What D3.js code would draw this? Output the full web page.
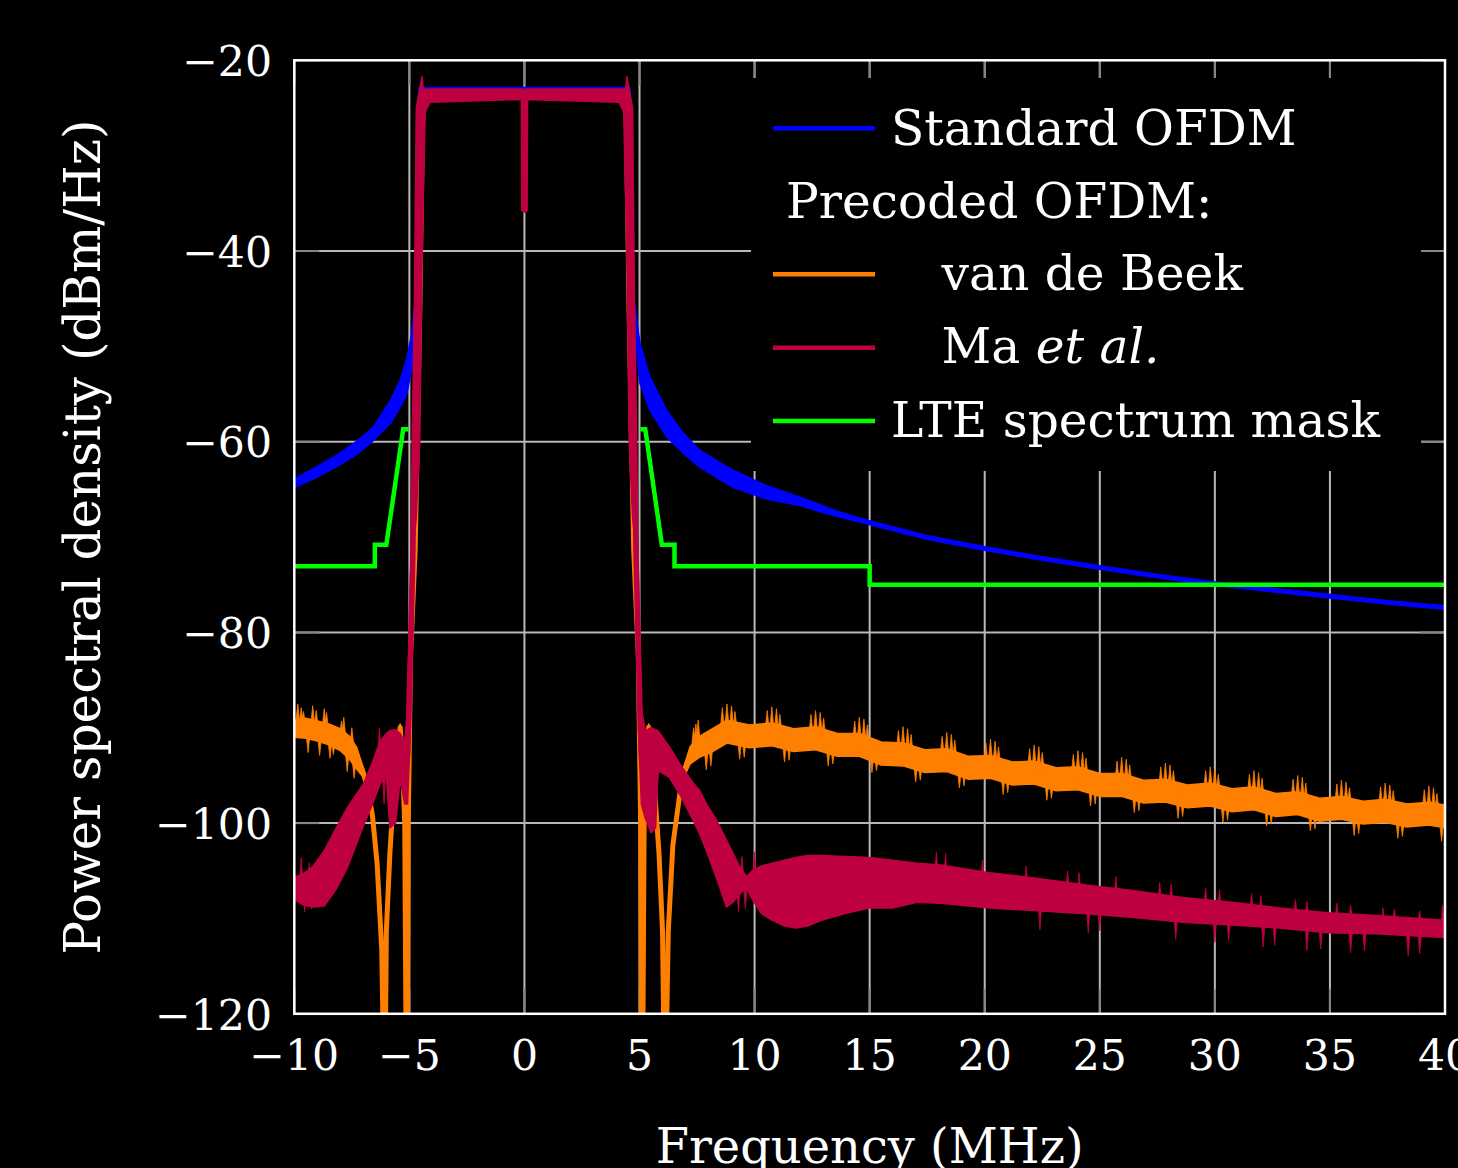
<!DOCTYPE html>
<html><head><meta charset="utf-8">
<script src="https://cdn.jsdelivr.net/npm/d3@7"></script>
<style>html,body{margin:0;padding:0;background:#000;}svg{display:block;}</style>
</head><body>
<svg id="chart" width="1458" height="1168"></svg>
<script>
// ---------------- data ----------------
const xTicks = [-10, -5, 0, 5, 10, 15, 20, 25, 30, 35, 40];
const yTicks = [-120, -100, -80, -60, -40, -20];
const xLabel = "Frequency (MHz)";
const yLabel = "Power spectral density (dBm/Hz)";
const legendLabels = ["Standard OFDM", "Precoded OFDM:", "van de Beek", "Ma", "LTE spectrum mask"];
const colors = {std: "#0000ff", vdb: "#ff8000", ma: "#bf0040", mask: "#00ff00"};

// [frequency MHz, upper dB, lower dB]
const standardOFDM = [
  [-10, -63.9, -64.8], [-9, -62.6, -63.7], [-8, -61.2, -62.4], [-7.27, -59.9, -61.3],
  [-6.57, -58.5, -59.9], [-5.83, -55.7, -58.1], [-5.4, -53.6, -56.4], [-5.11, -51.2, -55.0],
  [-4.89, -48.6, -52.2], [-4.7, -44.5, -47.0], [-4.62, -38, -42], [-4.56, -25, -30],
  [-4.52, -22.85, -23.3], [4.52, -22.85, -23.3], [4.56, -25, -30], [4.62, -38, -42],
  [4.7, -44, -47], [5.02, -49.7, -53.9], [5.45, -53.2, -56.7], [6.18, -56.7, -59.5],
  [6.9, -59.1, -61.2], [7.62, -60.9, -62.7], [9.07, -63.0, -64.8], [10.5, -64.6, -66.0],
  [11.96, -65.8, -66.7], [13.5, -67.2, -67.8], [15, -68.35, -68.65], [17.5, -69.9, -70.2],
  [20, -71.05, -71.35], [22.5, -72.1, -72.4], [25, -73.05, -73.35], [27.5, -73.95, -74.25],
  [30, -74.75, -75.05], [32.5, -75.4, -75.7], [35, -76.05, -76.35], [37.5, -76.7, -77.0],
  [40, -77.25, -77.55]
];

const vanDeBeek = [
  [-10, -89.2, -91.0], [-9.5, -89.0, -91.1], [-9.0, -89.3, -91.4], [-8.5, -89.6, -91.8],
  [-8.0, -90.1, -92.4], [-7.6, -90.9, -93.3], [-7.3, -92.0, -94.3], [-7.0, -94.2, -95.2],
  [-6.8, -96.2, -96.8], [-6.6, -99.0, -99.6], [-6.4, -104, -104.6], [-6.2, -113, -113.6],
  [-6.12, -125, -125], [-6.05, -125, -125], [-6.0, -111, -111.6], [-5.85, -103, -103.6],
  [-5.69, -96.8, -97.4], [-5.55, -92.5, -93.2], [-5.4, -89.6, -90.3], [-5.3, -93, -93.6],
  [-5.2, -100, -100.6], [-5.14, -125, -125], [-5.09, -125, -125], [-5.05, -100, -100.6],
  [-4.95, -82, -83], [-4.75, -70, -73], [-4.55, -45, -48], [-4.42, -24.2, -25.5],
  [-4.3, -23.4, -24.6], [-4.1, -23.3, -24.0],
  [4.1, -23.3, -24.0], [4.3, -23.4, -24.6], [4.42, -24.2, -25.5], [4.55, -45, -48],
  [4.75, -70, -73], [4.95, -82, -83], [5.05, -100, -100.6], [5.09, -125, -125],
  [5.14, -125, -125], [5.2, -100, -100.6], [5.3, -93, -93.6], [5.4, -89.6, -90.3],
  [5.55, -91.8, -92.5], [5.67, -96.6, -97.3], [5.85, -103, -103.6], [6.0, -111, -111.6],
  [6.07, -125, -125], [6.15, -125, -125], [6.25, -111, -111.6], [6.45, -102, -102.6],
  [6.75, -96.6, -97.3], [6.9, -94.3, -95.3], [7.2, -92.0, -93.8], [7.6, -90.9, -93.1],
  [8.1, -90.2, -92.6], [8.8, -89.2, -91.6], [9.78, -89.7, -92.1], [10.75, -89.5, -91.9],
  [11.7, -90.1, -92.5], [12.65, -89.9, -92.3], [13.6, -90.6, -93.0], [14.55, -90.6, -93.0],
  [15.5, -91.5, -93.9], [16.45, -91.6, -94.0], [17.4, -92.3, -94.7], [18.35, -92.2, -94.6],
  [19.3, -93.0, -95.4], [20.25, -92.9, -95.3], [21.2, -93.6, -96.0], [22.15, -93.5, -95.9],
  [23.1, -94.2, -96.6], [24.05, -94.1, -96.5], [25.0, -94.8, -97.2], [25.95, -94.8, -97.2],
  [26.9, -95.5, -97.9], [27.85, -95.4, -97.8], [28.8, -96.0, -98.4], [29.8, -95.8, -98.2],
  [30.75, -96.4, -98.8], [31.7, -96.2, -98.6], [32.65, -96.9, -99.3], [33.6, -96.7, -99.1],
  [34.55, -97.4, -99.8], [35.5, -97.2, -99.6], [36.45, -97.7, -100.1], [37.4, -97.5, -99.9],
  [38.35, -98.0, -100.4], [39.3, -97.8, -100.2], [40.0, -98.1, -100.5]
];
// [frequency MHz, spike tip dB]
const vanDeBeekSpikes = [
  [-9.85, -87.5], [-9.7, -87.9], [-9.6, -88.3], [-9.4, -92.6], [-9.2, -87.7], [-9.05, -88.2],
  [-8.9, -92.9], [-8.7, -88.0], [-8.6, -88.4], [-8.45, -93.2], [-8.3, -92.8], [-7.95, -89.3],
  [-7.85, -88.9], [-7.7, -94.6], [-7.5, -90.0], [-7.4, -95.3],
  [7.35, -90.0], [7.45, -89.6], [7.55, -89.2], [7.9, -94.4], [8.1, -94.0],
  [8.6, -87.9], [8.8, -87.5], [9.0, -87.7], [9.15, -88.3], [9.35, -93.3], [9.55, -93.1],
  [10.55, -88.2], [10.75, -87.8], [10.95, -88.0], [11.1, -88.6], [11.3, -93.6], [11.5, -93.4],
  [12.45, -88.6], [12.65, -88.2], [12.85, -88.4], [13.0, -89.0], [13.2, -94.0], [13.4, -93.8],
  [14.35, -89.3], [14.55, -88.9], [14.75, -89.1], [14.9, -89.7], [15.1, -94.7], [15.3, -94.5],
  [16.25, -90.3], [16.45, -89.9], [16.65, -90.1], [16.8, -90.7], [17.0, -95.7], [17.2, -95.5],
  [18.15, -90.9], [18.35, -90.5], [18.55, -90.7], [18.7, -91.3], [18.9, -96.3], [19.1, -96.1],
  [20.05, -91.6], [20.25, -91.2], [20.45, -91.4], [20.6, -92.0], [20.8, -97.0], [21.0, -96.8],
  [21.95, -92.2], [22.15, -91.8], [22.35, -92.0], [22.5, -92.6], [22.7, -97.6], [22.9, -97.4],
  [23.85, -92.8], [24.05, -92.4], [24.25, -92.6], [24.4, -93.2], [24.6, -98.2], [24.8, -98.0],
  [25.75, -93.5], [25.95, -93.1], [26.15, -93.3], [26.3, -93.9], [26.5, -98.9], [26.7, -98.7],
  [27.65, -94.1], [27.85, -93.7], [28.05, -93.9], [28.2, -94.5], [28.4, -99.5], [28.6, -99.3],
  [29.6, -94.5], [29.8, -94.1], [30.0, -94.3], [30.15, -94.9], [30.35, -99.9], [30.55, -99.7],
  [31.5, -94.9], [31.7, -94.5], [31.9, -94.7], [32.05, -95.3], [32.25, -100.3], [32.45, -100.1],
  [33.4, -95.4], [33.6, -95.0], [33.8, -95.2], [33.95, -95.8], [34.15, -100.8], [34.35, -100.6],
  [35.3, -95.9], [35.5, -95.5], [35.7, -95.7], [35.85, -96.3], [36.05, -101.3], [36.25, -101.1],
  [37.2, -96.2], [37.4, -95.8], [37.6, -96.0], [37.75, -96.6], [37.95, -101.6], [38.15, -101.4],
  [39.1, -96.5], [39.3, -96.1], [39.5, -96.3], [39.65, -96.9], [39.85, -101.9]
];

const maEtAl = [
  [-10.0, -105.7, -108.0], [-9.6, -105.3, -108.6], [-9.2, -104.6, -108.8], [-8.7, -102.9, -108.7],
  [-8.2, -100.6, -107.0], [-7.7, -98.4, -104.7], [-7.0, -95.9, -100.3], [-6.6, -93.6, -98.0],
  [-6.27, -91.4, -95.9], [-6.0, -90.6, -95.0], [-5.85, -90.3, -100.5], [-5.6, -90.2, -100.0],
  [-5.4, -90.6, -95.5], [-5.2, -91.5, -98.0], [-5.08, -88.0, -98.0], [-4.95, -74, -90],
  [-4.85, -66, -78], [-4.78, -45, -70], [-4.7, -25, -68], [-4.55, -23.0, -60],
  [-4.45, -21.7, -40], [-4.4, -23.0, -28], [-4.3, -23.0, -25.3], [-4.1, -23.0, -24.4],
  [-0.05, -23.0, -24.1], [-0.03, -35.4, -35.9], [0.03, -35.4, -35.9], [0.05, -23.0, -24.1],
  [4.1, -23.0, -24.4], [4.3, -23.0, -25.3], [4.4, -23.0, -28], [4.45, -21.7, -40],
  [4.55, -23.0, -60], [4.7, -25, -68], [4.78, -45, -70], [4.85, -66, -78],
  [4.95, -74, -90], [5.08, -88.0, -98.0], [5.25, -90.3, -99.5], [5.5, -90.0, -101.0],
  [5.7, -90.2, -100.5], [5.8, -90.3, -94.5], [6.3, -92.0, -95.2], [6.75, -93.8, -97.0],
  [7.33, -95.8, -99.7], [7.62, -96.6, -101.2], [7.91, -98.0, -102.9], [8.35, -99.7, -105.8],
  [8.78, -101.8, -108.8], [9.07, -103.2, -108.3], [9.36, -104.6, -107.4], [9.65, -105.6, -106.8],
  [9.9, -105.0, -108.0], [10.3, -104.5, -109.5], [10.77, -104.2, -110.2], [11.3, -103.9, -110.8],
  [11.8, -103.6, -111.0], [12.3, -103.4, -110.8], [12.9, -103.4, -110.2], [13.9, -103.5, -109.5],
  [14.97, -103.6, -108.9], [16.0, -103.9, -108.9], [17.06, -104.2, -108.3], [18.1, -104.4, -108.4],
  [20.2, -105.2, -108.9], [22.3, -105.8, -109.2], [24.4, -106.5, -109.5], [26.5, -107.1, -109.9],
  [28.6, -107.8, -110.4], [30.7, -108.3, -110.7], [32.8, -108.9, -111.0], [34.9, -109.4, -111.5],
  [37.0, -109.7, -111.6], [40.0, -110.2, -112.0]
];
const maEtAlSpikes = [
  [-9.7, -103.6], [-9.55, -109.3], [-9.35, -104.2], [-9.25, -109.0], [-6.3, -90.0], [-6.1, -98.0],
  [9.3, -109.3], [9.45, -103.5], [9.6, -109.0], [10.0, -103.0],
  [17.9, -103.0], [18.3, -103.2], [19.9, -103.9], [21.8, -104.5], [22.4, -111.2], [23.6, -105.0],
  [24.1, -105.2], [24.5, -111.5], [25.0, -111.3], [25.7, -105.6], [27.6, -106.2], [28.1, -106.4],
  [28.3, -112.2], [29.6, -106.8], [30.0, -112.5], [30.2, -107.0], [30.6, -112.3], [31.6, -107.4],
  [32.0, -107.6], [32.1, -113.0], [32.6, -112.8], [33.5, -108.0], [34.0, -108.2], [34.0, -113.4],
  [34.6, -113.2], [35.3, -108.4], [35.9, -108.6], [35.9, -113.6], [36.5, -113.4], [37.3, -108.9],
  [37.8, -109.0], [38.4, -113.9], [38.9, -109.2], [38.9, -113.7], [39.9, -108.6]
];

// LTE spectrum mask [frequency MHz, dB]
const lteMaskLeft = [[-10, -73.05], [-6.5, -73.05], [-6.5, -70.8], [-6.0, -70.8], [-5.27, -58.7], [-5.03, -58.7]];
const lteMaskRight = [[5.03, -58.7], [5.25, -58.7], [5.97, -70.8], [6.52, -70.8], [6.52, -73.05],
  [15, -73.05], [15, -75.0], [40, -75.0]];

// ---------------- drawing ----------------
const FONT = "'DejaVu Serif', 'Liberation Serif', serif";
const svg = d3.select("#chart");
svg.append("rect").attr("width", 1458).attr("height", 1168).attr("fill", "#000");

const L = 294.3, R = 1445, T = 60.3, B = 1013.8;
const x = d3.scaleLinear().domain([-10, 40]).range([L, R]);
const y = d3.scaleLinear().domain([-120, -20]).range([B, T]);

function fitSize(str, target) {
  const t = svg.append("text").attr("font-family", FONT).attr("font-size", 100).text(str);
  const w = t.node().getComputedTextLength();
  t.remove();
  return 100 * target / w;
}

svg.append("clipPath").attr("id", "plotclip").append("rect")
  .attr("x", L).attr("y", T).attr("width", R - L).attr("height", B - T);

// grid
const grid = svg.append("g");
grid.selectAll(".gx").data(xTicks.slice(1, -1)).join("line")
  .attr("x1", d => x(d)).attr("x2", d => x(d)).attr("y1", T).attr("y2", B)
  .attr("stroke", "#b8b8b8").attr("stroke-width", 2);
grid.selectAll(".gy").data(yTicks.slice(1, -1)).join("line")
  .attr("y1", d => y(d)).attr("y2", d => y(d)).attr("x1", L).attr("x2", R)
  .attr("stroke", "#b8b8b8").attr("stroke-width", 2);

// inward ticks on all sides
const TL = 25;
const ticks = svg.append("g").attr("stroke", "#858585").attr("stroke-width", 2);
xTicks.forEach(d => {
  ticks.append("line").attr("x1", x(d)).attr("x2", x(d)).attr("y1", B).attr("y2", B - TL);
  ticks.append("line").attr("x1", x(d)).attr("x2", x(d)).attr("y1", T).attr("y2", T + TL);
});
yTicks.forEach(d => {
  ticks.append("line").attr("y1", y(d)).attr("y2", y(d)).attr("x1", L).attr("x2", L + TL);
  ticks.append("line").attr("y1", y(d)).attr("y2", y(d)).attr("x1", R).attr("x2", R - TL);
});

// series
const plot = svg.append("g").attr("clip-path", "url(#plotclip)");
const area = d3.area().x(d => x(d[0])).y0(d => y(d[2])).y1(d => y(d[1]));
const midLine = d3.line().x(d => x(d[0])).y(d => y((d[1] + d[2]) / 2));
const bis = d3.bisector(d => d[0]).left;
function midAt(data, f) {
  const i = bis(data, f);
  if (i <= 0) return (data[0][1] + data[0][2]) / 2;
  if (i >= data.length) { const e = data[data.length - 1]; return (e[1] + e[2]) / 2; }
  const a = data[i - 1], b = data[i];
  const t = (f - a[0]) / (b[0] - a[0]);
  return ((a[1] + a[2]) / 2) * (1 - t) + ((b[1] + b[2]) / 2) * t;
}
function band(data, color, lw) {
  plot.append("path").datum(data).attr("d", area)
    .attr("fill", color).attr("stroke", color).attr("stroke-width", 1.5).attr("stroke-linejoin", "round");
  plot.append("path").datum(data).attr("d", midLine)
    .attr("fill", "none").attr("stroke", color).attr("stroke-width", lw)
    .attr("stroke-linejoin", "round").attr("stroke-linecap", "round");
}
function spikes(data, sp, color, hw) {
  plot.append("g").selectAll("path").data(sp).join("path")
    .attr("d", d => {
      const base = midAt(data, d[0]);
      return `M${x(d[0] - hw)},${y(base)}L${x(d[0])},${y(d[1])}L${x(d[0] + hw)},${y(base)}Z`;
    })
    .attr("fill", color).attr("stroke", color).attr("stroke-width", 0.8);
}

band(standardOFDM, colors.std, 5);
band(vanDeBeek, colors.vdb, 5);
spikes(vanDeBeek, vanDeBeekSpikes, colors.vdb, 0.11);
band(maEtAl, colors.ma, 5.5);
spikes(maEtAl, maEtAlSpikes, colors.ma, 0.1);

const maskLine = d3.line().x(d => x(d[0])).y(d => y(d[1]));
[lteMaskLeft, lteMaskRight].forEach(seg => {
  plot.append("path").datum(seg).attr("d", maskLine).attr("fill", "none")
    .attr("stroke", colors.mask).attr("stroke-width", 4.5).attr("stroke-linejoin", "miter");
});

// legend
svg.append("rect").attr("x", 751).attr("y", 78).attr("width", 1421 - 751).attr("height", 471 - 78).attr("fill", "#000");
const legSize = (fitSize("Standard OFDM", 397.5) + fitSize("LTE spectrum mask", 499)) / 2;
const leg = svg.append("g").attr("font-family", FONT).attr("font-size", legSize).attr("fill", "#fff");
const legRows = [
  {label: legendLabels[0], color: colors.std, ly: 128.3, tx: 891, ty: 145},
  {label: legendLabels[1], color: null, ly: null, tx: 786, ty: 217.7},
  {label: legendLabels[2], color: colors.vdb, ly: 274.3, tx: 941.5, ty: 290},
  {label: legendLabels[3], color: colors.ma, ly: 347.7, tx: 941.5, ty: 363.3, italic: "et al."},
  {label: legendLabels[4], color: colors.mask, ly: 421, tx: 891, ty: 436.7}
];
legRows.forEach(r => {
  if (r.color) {
    svg.append("line").attr("x1", 773).attr("x2", 875).attr("y1", r.ly).attr("y2", r.ly)
      .attr("stroke", r.color).attr("stroke-width", 4.5);
  }
  const t = leg.append("text").attr("x", r.tx).attr("y", r.ty);
  t.append("tspan").text(r.label);
  if (r.italic) t.append("tspan").attr("font-style", "italic").text(" " + r.italic);
});

// frame
svg.append("rect").attr("x", L).attr("y", T).attr("width", R - L).attr("height", B - T)
  .attr("fill", "none").attr("stroke", "#fff").attr("stroke-width", 2.5);

// tick labels
const tickSize = fitSize("\u2212120", 117);
const fmt = v => (v < 0 ? "\u2212" : "") + Math.abs(v);
svg.append("g").attr("font-family", FONT).attr("font-size", tickSize).attr("fill", "#fff")
  .selectAll("text").data(yTicks).join("text")
  .attr("x", 272).attr("y", d => y(d) + tickSize * 0.37).attr("text-anchor", "end").text(fmt);
svg.append("g").attr("font-family", FONT).attr("font-size", tickSize).attr("fill", "#fff")
  .selectAll("text").data(xTicks).join("text")
  .attr("x", d => x(d)).attr("y", 1070).attr("text-anchor", "middle").text(fmt);

// axis titles
const xt = fitSize(xLabel, 428);
svg.append("text").attr("font-family", FONT).attr("font-size", xt).attr("fill", "#fff")
  .attr("x", (L + R) / 2).attr("y", 1163).attr("text-anchor", "middle").text(xLabel);
const yt = fitSize(yLabel, 835);
svg.append("text").attr("font-family", FONT).attr("font-size", yt).attr("fill", "#fff")
  .attr("text-anchor", "middle").attr("transform", `translate(100,${(T + B) / 2}) rotate(-90)`).text(yLabel);
</script>
</body></html>
